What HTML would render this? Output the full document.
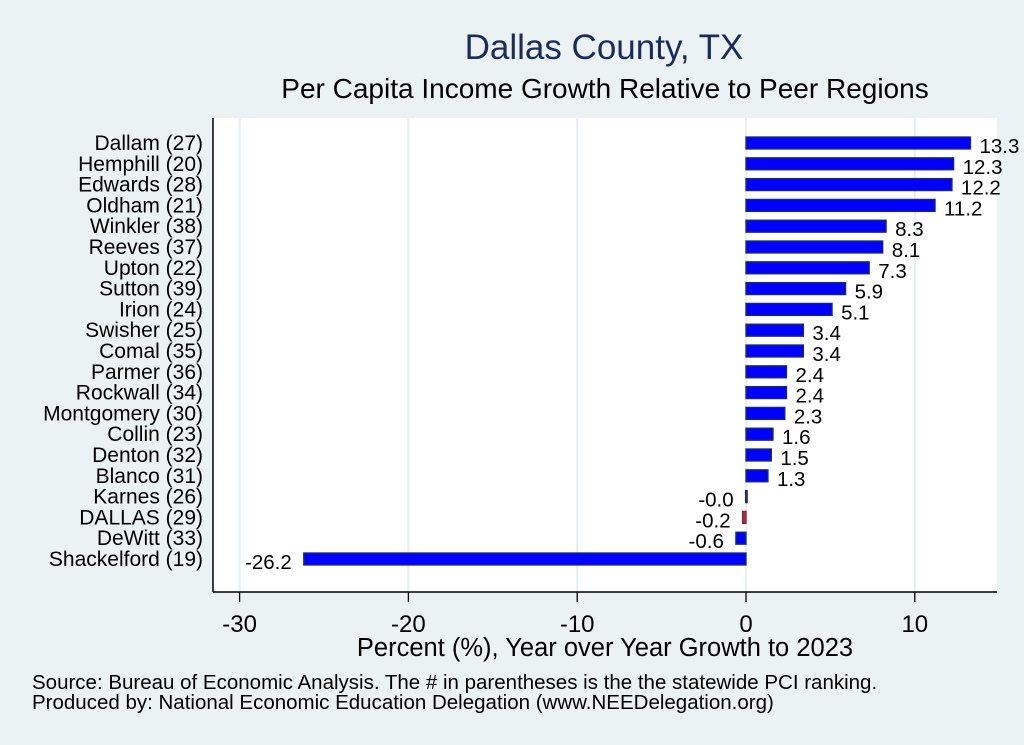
<!DOCTYPE html>
<html><head><meta charset="utf-8"><style>
body{margin:0;background:#eaf2f3;font-family:"Liberation Sans",sans-serif}
svg{display:block}
</style></head><body>
<svg id="c" width="1024" height="745">
<rect x="0" y="0" width="1024" height="745" fill="#eaf2f3"/>
<rect x="213" y="118" width="784" height="474" fill="#ffffff"/>
<text x="604" y="59" text-anchor="middle" font-size="35" fill="#1a2b5c">Dallas County, TX</text>
<text x="605" y="98" text-anchor="middle" font-size="28" fill="#000">Per Capita Income Growth Relative to Peer Regions</text>
<text x="605" y="656" text-anchor="middle" font-size="25.5" fill="#000">Percent (%), Year over Year Growth to 2023</text>
<text x="32" y="689" font-size="20.5" fill="#000">Source: Bureau of Economic Analysis. The # in parentheses is the the statewide PCI ranking.</text>
<text x="32" y="709" font-size="20.5" fill="#000">Produced by: National Economic Education Delegation (www.NEEDelegation.org)</text>
<g id="grid"></g><g id="bars"></g><g id="axis"></g>
</svg>
<script>
const categories=["Dallam (27)","Hemphill (20)","Edwards (28)","Oldham (21)","Winkler (38)","Reeves (37)","Upton (22)","Sutton (39)","Irion (24)","Swisher (25)","Comal (35)","Parmer (36)","Rockwall (34)","Montgomery (30)","Collin (23)","Denton (32)","Blanco (31)","Karnes (26)","DALLAS (29)","DeWitt (33)","Shackelford (19)"];
const values=[13.3,12.3,12.2,11.2,8.3,8.1,7.3,5.9,5.1,3.4,3.4,2.4,2.4,2.3,1.6,1.5,1.3,-0.02,-0.2,-0.6,-26.2];
const labels=["13.3","12.3","12.2","11.2","8.3","8.1","7.3","5.9","5.1","3.4","3.4","2.4","2.4","2.3","1.6","1.5","1.3","-0.0","-0.2","-0.6","-26.2"];
const ticks=[-30,-20,-10,0,10];
const NS="http://www.w3.org/2000/svg";
const xs=v=>746+v*16.88;
const ys=i=>143+i*20.8;
function mk(t,a,p){const e=document.createElementNS(NS,t);for(const k in a)e.setAttribute(k,a[k]);p.appendChild(e);return e;}
const grid=document.getElementById('grid'),bars=document.getElementById('bars'),axis=document.getElementById('axis');
ticks.forEach(t=>{
 const g=mk('line',{x1:xs(t),x2:xs(t),y1:118,y2:592,stroke:'#e6eff1','stroke-width':2},grid);
 
 
 const tk=mk('line',{x1:xs(t),x2:xs(t),y1:592,y2:602,stroke:'#000','stroke-width':1.3},axis);
 
 
 const tl=mk('text',{x:xs(t),y:632,'text-anchor':'middle','font-size':24},axis);
 tl.textContent=t;
 
 
});
const ax=mk('line',{x1:213,x2:997,y1:592,y2:592,stroke:'#000','stroke-width':1.5},axis);


const ay=mk('line',{x1:213,x2:213,y1:118,y2:592,stroke:'#000','stroke-width':1.5},axis);


categories.forEach((c,i)=>{
 const v=values[i],y=ys(i);
 const x0=Math.min(xs(0),xs(v)),w=Math.max(Math.abs(xs(v)-xs(0)),1.5);
 const isD=c.startsWith('DALLAS');
 const r=mk('rect',{x:x0,y:y-6,width:w,height:12,fill:isD?'#b03040':(Math.abs(v)<0.1?'#3a6ea5':'#0000ff'),stroke:isD?'#902030':'#1a2b6c','stroke-width':1.3},bars);
 
 
 const cl=mk('text',{x:203,y:y+7,'text-anchor':'end','font-size':21},bars);
 cl.textContent=c;
 
 
 const vl=mk('text',{x:v>=0?xs(v)+9:xs(v)-12,y:y+10,'text-anchor':v>=0?'start':'end','font-size':20.5},bars);
 vl.textContent=labels[i];
 
 
});
</script>
</body></html>
